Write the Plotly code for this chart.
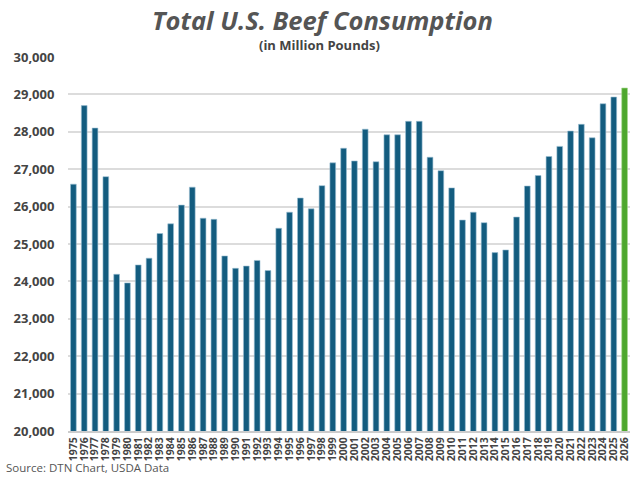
import plotly.graph_objects as go

years = [str(y) for y in range(1975, 2027)]
consumption = [
    26600, 28700, 28100, 26800, 24190, 23960, 24440, 24620, 25280, 25540,
    26040, 26520, 25690, 25660, 24680, 24350, 24410, 24560, 24290, 25420,
    25850, 26230, 25940, 26560, 27170, 27560, 27220, 28070, 27200, 27920,
    27920, 28280, 28280, 27320, 26960, 26500, 25640, 25850, 25570, 24770,
    24840, 25720, 26550, 26830, 27340, 27610, 28020, 28200, 27840, 28750,
    28930, 29170,
]
forecast_year = "2026"
colors = ["#4ea72e" if y == forecast_year else "#135c7f" for y in years]
line_colors = ["#a6d98f" if y == forecast_year else "#9cc0d3" for y in years]

W, H = 640, 480
L, R, T, B = 68, 10, 57, 49
plot_w = W - L - R
plot_h = H - T - B

def px_x(x):
    return (x - L) / plot_w

def px_y(y):
    return (H - B - y) / plot_h

fig = go.Figure()
fig.add_trace(go.Bar(
    x=years, y=consumption,
    marker=dict(color=colors, line=dict(color=line_colors, width=0.6)),
    hoverinfo="skip",
))

fig.update_layout(
    width=W, height=H,
    margin=dict(l=L, r=R, t=T, b=B),
    paper_bgcolor="white", plot_bgcolor="white",
    showlegend=False,
    bargap=0.47,
    font=dict(family="Open Sans, Lato, sans-serif", color="#444444"),
    annotations=[
        dict(text="<b><i>Total U.S. Beef Consumption</i></b>", xref="paper", yref="paper",
             x=px_x(322), y=px_y(20), xanchor="center", yanchor="middle", showarrow=False,
             font=dict(size=25.5, color="#555555", family="Open Sans, sans-serif")),
        dict(text="<b>(in Million Pounds)</b>", xref="paper", yref="paper",
             x=px_x(319), y=px_y(45), xanchor="center", yanchor="middle", showarrow=False,
             font=dict(size=13, color="#444444")),
        dict(text="Source: DTN Chart, USDA Data", xref="paper", yref="paper",
             x=px_x(4), y=px_y(467), xanchor="left", yanchor="middle", showarrow=False,
             font=dict(size=11.5, color="#555555")),
    ],
    xaxis=dict(
        type="category", tickangle=-90, tickmode="linear", dtick=1,
        tickfont=dict(size=10.5, color="#444444", weight="bold"),
        showgrid=False, showline=True, linecolor="#cccccc", linewidth=2,
        ticks="", automargin=False,
    ),
    yaxis=dict(
        range=[20000, 30000], dtick=1000, tickformat=",",
        tickfont=dict(size=13, color="#444444", weight="bold"),
        showgrid=True, gridcolor="#dcdcdc", gridwidth=2,
        zeroline=False, ticks="outside", ticklen=10, tickcolor="white",
        automargin=False,
    ),
)

fig.write_html("out.html", config={"displayModeBar": False},
               post_script="document.body.style.margin='0';")
